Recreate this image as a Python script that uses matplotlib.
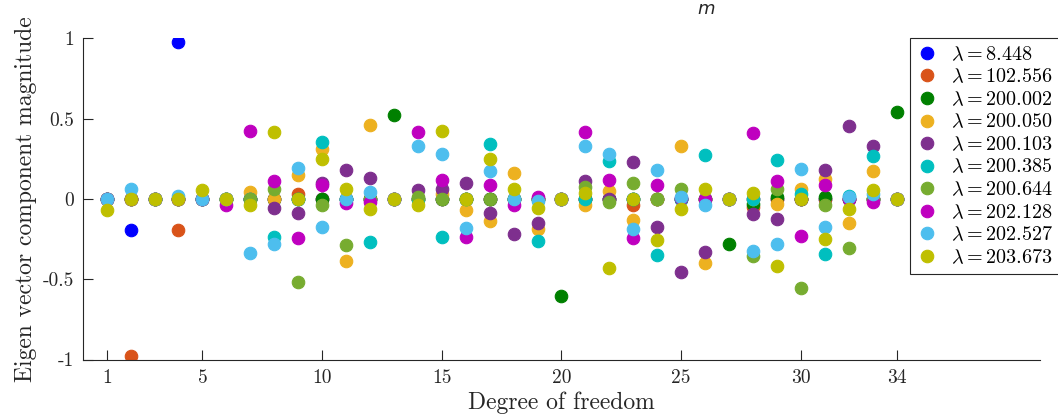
import matplotlib
matplotlib.use("Agg")
import matplotlib.pyplot as plt
import numpy as np

plt.rcParams['font.family'] = 'serif'
plt.rcParams['font.serif'] = ['cmr10', 'DejaVu Serif']
plt.rcParams['mathtext.fontset'] = 'cm'
plt.rcParams['axes.unicode_minus'] = False

dof = list(range(1, 35))
xticks = [1, 5, 10, 15, 20, 25, 30, 34]
yticks = [-1, -0.5, 0, 0.5, 1]
ytick_labels = ['-1', '-0.5', '0', '0.5', '1']

eigenvalues = ['8.448', '102.556', '200.002', '200.050', '200.103',
               '200.385', '200.644', '202.128', '202.527', '203.673']

mode1 = [0, -0.195, 0, 0.98, 0, 0, 0, 0, 0, 0,
         0, 0, 0, 0, 0, 0, 0, 0, 0, 0,
         0, 0, 0, 0, 0, 0, 0, 0, 0, 0,
         0, 0, 0, 0]
mode2 = [0, -0.98, 0, -0.195, 0, 0, 0, 0, 0.03, 0,
         0, 0, 0, 0, 0, 0, 0, 0, 0, 0,
         0, 0, -0.04, 0, 0, 0, 0, -0.05, 0, 0,
         0, 0, 0, 0]
mode3 = [0, 0, 0, 0, 0, 0, 0, 0, 0, 0,
         0, 0, 0.522, 0, 0, 0, 0, 0, 0, -0.607,
         0, 0, 0, 0, 0, 0, -0.278, -0.03, 0.012, 0,
         0.012, 0, 0, 0.543]
mode4 = [0, 0, 0, 0, 0, 0, 0.044, 0, 0.148, 0.31,
         -0.389, 0.46, 0, 0, 0.03, -0.067, -0.137, 0.162, -0.19, 0,
         -0.04, 0.048, -0.129, 0, 0.329, -0.397, 0, 0, -0.03, 0.065,
         0.127, -0.147, 0.175, 0]
mode5 = [0, 0, 0, 0, 0, 0, 0, -0.056, -0.09, 0.1,
         0.179, 0.133, 0, 0.056, 0.065, 0.1, -0.087, -0.216, -0.147, 0,
         0.112, 0, 0.231, -0.175, -0.455, -0.33, 0, -0.093, -0.122, 0,
         0.183, 0.455, 0.331, 0]
mode6 = [0, 0, 0, 0, 0, 0, 0, -0.237, 0, 0.353,
         0, -0.268, 0, 0, -0.237, 0, 0.345, 0, -0.264, 0,
         0, 0.237, 0, -0.351, 0, 0.273, 0, 0, 0.241, 0.03,
         -0.345, 0.017, 0.266, 0]
mode7 = [0, 0, 0, 0, 0, 0, 0, 0.059, -0.518, -0.038,
         -0.289, 0, 0, 0.015, 0, 0, 0, 0, 0, 0,
         0.075, -0.02, 0.102, 0, 0.065, 0, 0, -0.355, 0.065, -0.555,
         -0.04, -0.303, 0, 0]
mode8 = [0, 0, 0, 0, 0, -0.04, 0.424, 0.114, -0.245, 0.088,
         -0.028, -0.02, 0, 0.418, 0.121, -0.237, 0.09, -0.035, 0.01, 0,
         0.418, 0.121, -0.243, 0.09, 0.005, 0, 0, 0.408, 0.112, -0.231,
         0.09, 0, -0.02, 0]
mode9 = [0, 0.059, 0, 0.02, 0, 0, -0.334, -0.278, 0.19, -0.173,
         0, 0.044, 0, 0.329, 0.277, -0.18, 0.173, 0, -0.01, 0,
         0.329, 0.279, -0.185, 0.179, 0.01, -0.035, 0, -0.326, -0.278, 0.185,
         -0.175, 0.01, 0.03, 0]
mode10 = [-0.066, 0, 0, 0, 0.054, 0, -0.04, 0.418, 0, 0.25,
          0.062, -0.06, 0, -0.038, 0.424, 0, 0.248, 0.06, -0.054, 0,
          0.034, -0.428, 0, -0.258, -0.064, 0.06, 0, 0.034, -0.42, 0,
          -0.251, -0.06, 0.054, 0]

modes = [mode1, mode2, mode3, mode4, mode5, mode6, mode7, mode8, mode9, mode10]
colors = ['#0000FF', '#D95319', '#008000', '#EDB120', '#7E2F8E',
          '#00BFBF', '#77AC30', '#BF00BF', '#4DBEEE', '#BFBF00']

fig = plt.figure(figsize=(10.58, 4.2), dpi=100)
ax = fig.add_axes([0.0782, 0.144, 0.905, 0.7646])

for vals, col, lam in zip(modes, colors, eigenvalues):
    ax.plot(dof, vals, linestyle='none', marker='o', markersize=9,
            markerfacecolor=col, markeredgecolor=col, markeredgewidth=0.8,
            label=r'$\lambda = ' + lam + '$')

ax.set_xlim(0, 40)
ax.set_ylim(-1, 1)
ax.set_xticks(xticks)
ax.set_xticklabels([str(t) for t in xticks])
ax.set_yticks(yticks)
ax.set_yticklabels(ytick_labels)
ax.tick_params(direction='in', length=7, width=0.8, labelsize=14, colors='#262626')
ax.tick_params(axis='x', pad=7)
ax.tick_params(axis='y', pad=6)
ax.spines['top'].set_visible(False)
ax.spines['right'].set_visible(False)
for s in ['left', 'bottom']:
    ax.spines[s].set_color('#262626')
    ax.spines[s].set_linewidth(0.8)

ax.set_xlabel('Degree of freedom', fontsize=17, color='#262626', labelpad=3)
ax.set_ylabel('Eigen vector component magnitude', fontsize=17, color='#262626', labelpad=4)

leg = ax.legend(loc='upper left', bbox_to_anchor=(910 / 1058, 1 - 38.3 / 420),
                bbox_transform=fig.transFigure, prop={'size': 14.5}, frameon=True,
                fancybox=False, framealpha=1, edgecolor='#262626',
                borderpad=0.35, labelspacing=0.2, handletextpad=0.7,
                handlelength=1.0, borderaxespad=0)
leg.get_frame().set_linewidth(0.8)

fig.text(706 / 1058, 1 - 9 / 420, 'm', fontsize=13, fontstyle='italic',
         family='DejaVu Sans', ha='center', va='center', color='#262626')

fig.savefig('out.png', dpi=100)
